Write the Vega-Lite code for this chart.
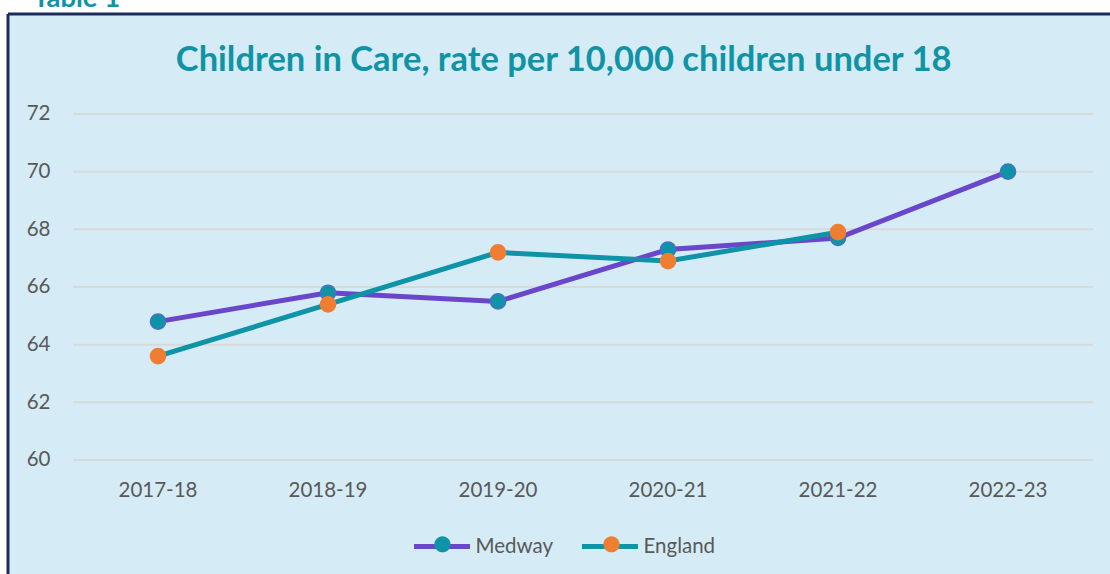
{
  "$schema": "https://vega.github.io/schema/vega-lite/v6.json",
  "width": 1102,
  "height": 560,
  "autosize": {"type": "none"},
  "padding": {"left": 8, "top": 14, "right": 0, "bottom": 0},
  "background": "#ffffff",
  "config": {
    "view": {"fill": "#d5ecf6", "stroke": null},
    "font": "Lato",
    "axisY": {"offset": -42, "ticks": false, "tickSize": 0, "domain": false, "grid": false, "labelPadding": 0, "labelFontSize": 20.5, "labelColor": "#595959", "labelFont": "Lato"},
    "axisX": {"offset": -84, "ticks": false, "tickSize": 0, "domain": false, "grid": false, "labelPadding": 0, "labelBaseline": "middle", "labelAngle": 0, "labelFontSize": 20.5, "labelColor": "#595959", "labelFont": "Lato"}
  },
  "datasets": {
    "rates": [
      {"year": "2017-18", "series": "Medway", "value": 64.8},
      {"year": "2018-19", "series": "Medway", "value": 65.8},
      {"year": "2019-20", "series": "Medway", "value": 65.5},
      {"year": "2020-21", "series": "Medway", "value": 67.3},
      {"year": "2021-22", "series": "Medway", "value": 67.7},
      {"year": "2022-23", "series": "Medway", "value": 70.0},
      {"year": "2017-18", "series": "England", "value": 63.6},
      {"year": "2018-19", "series": "England", "value": 65.4},
      {"year": "2019-20", "series": "England", "value": 67.2},
      {"year": "2020-21", "series": "England", "value": 66.9},
      {"year": "2021-22", "series": "England", "value": 67.9}
    ],
    "grid": [{"v": 60}, {"v": 62}, {"v": 64}, {"v": 66}, {"v": 68}, {"v": 70}, {"v": 72}]
  },
  "layer": [
    {
      "layer": [
        {
          "data": {"name": "grid"},
          "mark": {"type": "rule", "color": "#d9d9d9", "strokeWidth": 2},
          "encoding": {
            "x": {"datum": 0, "type": "quantitative", "scale": {"domain": [-0.063725, 1.016667], "nice": false, "zero": false}, "axis": null},
            "x2": {"datum": 1},
            "y": {"field": "v", "type": "quantitative", "scale": {"domain": [56.046, 75.468], "nice": false, "zero": false}, "axis": {"values": [60, 62, 64, 66, 68, 70, 72], "orient": "left", "title": null}}
          }
        },
        {
          "data": {"values": [{"side": "left"}]},
          "mark": {"type": "rule", "color": "#1c2b5a", "strokeWidth": 3},
          "encoding": {
            "x": {"datum": -0.063725, "type": "quantitative", "scale": {"domain": [-0.063725, 1.016667], "nice": false, "zero": false}, "axis": null},
            "y": {"datum": 56.046, "type": "quantitative", "scale": {"domain": [56.046, 75.468], "nice": false, "zero": false}, "axis": {"values": [60, 62, 64, 66, 68, 70, 72], "orient": "left", "title": null}},
            "y2": {"datum": 75.468}
          }
        },
        {
          "data": {"values": [{"side": "top"}]},
          "mark": {"type": "rule", "color": "#1c2b5a", "strokeWidth": 3},
          "encoding": {
            "x": {"datum": -0.063725, "type": "quantitative", "scale": {"domain": [-0.063725, 1.016667], "nice": false, "zero": false}, "axis": null},
            "x2": {"datum": 1.016667},
            "y": {"datum": 75.468, "type": "quantitative", "scale": {"domain": [56.046, 75.468], "nice": false, "zero": false}, "axis": {"values": [60, 62, 64, 66, 68, 70, 72], "orient": "left", "title": null}}
          }
        },
        {
          "data": {"values": [{"t": "Children in Care, rate per 10,000 children under 18"}]},
          "mark": {"type": "text", "font": "Lato", "fontWeight": "bold", "fontSize": 34.5, "color": "#1193a6", "align": "center", "baseline": "alphabetic"},
          "encoding": {
            "text": {"field": "t"},
            "x": {"datum": 0.4810, "type": "quantitative", "scale": {"domain": [-0.063725, 1.016667], "nice": false, "zero": false}, "axis": null},
            "y": {"datum": 73.474, "type": "quantitative", "scale": {"domain": [56.046, 75.468], "nice": false, "zero": false}, "axis": {"values": [60, 62, 64, 66, 68, 70, 72], "orient": "left", "title": null}}
          }
        },
        {
          "data": {"values": [{"t": "Table 1"}]},
          "mark": {"type": "text", "font": "Lato", "fontWeight": "bold", "fontSize": 27.5, "color": "#1193a6", "align": "left", "baseline": "alphabetic"},
          "encoding": {
            "text": {"field": "t"},
            "x": {"datum": -0.03922, "type": "quantitative", "scale": {"domain": [-0.063725, 1.016667], "nice": false, "zero": false}, "axis": null},
            "y": {"datum": 75.72, "type": "quantitative", "scale": {"domain": [56.046, 75.468], "nice": false, "zero": false}, "axis": {"values": [60, 62, 64, 66, 68, 70, 72], "orient": "left", "title": null}}
          }
        }
      ]
    },
    {
      "data": {"name": "rates"},
      "layer": [
        {
          "transform": [{"filter": "datum.series === 'Medway'"}],
          "mark": {"type": "line", "strokeWidth": 5},
          "encoding": {
            "x": {
              "field": "year", "type": "nominal",
              "scale": {"type": "band", "domain": ["2017-18", "2018-19", "2019-20", "2020-21", "2021-22", "2022-23"], "paddingInner": 0, "paddingOuter": 0.2412, "align": 0.7927},
              "axis": {"orient": "bottom", "title": null}
            },
            "y": {"field": "value", "type": "quantitative", "scale": {"domain": [56.046, 75.468], "nice": false, "zero": false}, "axis": {"values": [60, 62, 64, 66, 68, 70, 72], "orient": "left", "title": null}},
            "stroke": {
              "field": "series", "type": "nominal", "sort": ["Medway", "England"],
              "scale": {"range": ["#6a46cb", "#0f93a6"]},
              "legend": {
                "orient": "none", "legendX": 403.5, "legendY": 502, "direction": "horizontal", "title": null,
                "symbolType": "stroke", "symbolSize": 3136, "symbolStrokeWidth": 5,
                "labelFontSize": 20.5, "labelColor": "#595959", "labelFont": "Lato", "labelOffset": 3,
                "columnPadding": 18, "padding": 0
              }
            }
          }
        },
        {
          "transform": [{"filter": "datum.series === 'England'"}],
          "mark": {"type": "line", "strokeWidth": 5},
          "encoding": {
            "x": {
              "field": "year", "type": "nominal",
              "scale": {"type": "band", "domain": ["2017-18", "2018-19", "2019-20", "2020-21", "2021-22", "2022-23"], "paddingInner": 0, "paddingOuter": 0.2412, "align": 0.7927},
              "axis": {"orient": "bottom", "title": null}
            },
            "y": {"field": "value", "type": "quantitative", "scale": {"domain": [56.046, 75.468], "nice": false, "zero": false}, "axis": {"values": [60, 62, 64, 66, 68, 70, 72], "orient": "left", "title": null}},
            "stroke": {"field": "series", "type": "nominal", "sort": ["Medway", "England"], "scale": {"range": ["#6a46cb", "#0f93a6"]}}
          }
        },
        {
          "mark": {"type": "point", "filled": true, "opacity": 1, "size": 230, "strokeWidth": 1.5},
          "encoding": {
            "x": {
              "field": "year", "type": "nominal",
              "scale": {"type": "band", "domain": ["2017-18", "2018-19", "2019-20", "2020-21", "2021-22", "2022-23"], "paddingInner": 0, "paddingOuter": 0.2412, "align": 0.7927},
              "axis": {"orient": "bottom", "title": null}
            },
            "y": {"field": "value", "type": "quantitative", "scale": {"domain": [56.046, 75.468], "nice": false, "zero": false}, "axis": {"values": [60, 62, 64, 66, 68, 70, 72], "orient": "left", "title": null}},
            "fill": {
              "field": "series", "type": "nominal",
              "scale": {"domain": ["Medway", "England"], "range": ["#0f93a6", "#ef7d32"]},
              "legend": {
                "orient": "none", "legendX": 406.5, "legendY": 502, "direction": "horizontal", "title": null,
                "symbolType": "M -1.09 0 L 1.09 0 M -0.29 0 A 0.29 0.29 0 1 0 0.29 0 A 0.29 0.29 0 1 0 -0.29 0 Z",
                "symbolSize": 3136, "symbolStrokeWidth": 0,
                "labelExpr": "''", "labelFontSize": 20.5, "labelFont": "Lato", "labelOffset": 0,
                "columnPadding": 107, "padding": 0
              }
            },
            "stroke": {
              "condition": {"test": "datum.series === 'Medway'", "value": "#4472c4"},
              "value": "#ef7d32"
            }
          }
        }
      ]
    }
  ],
  "resolve": {"scale": {"x": "independent"}}
}
